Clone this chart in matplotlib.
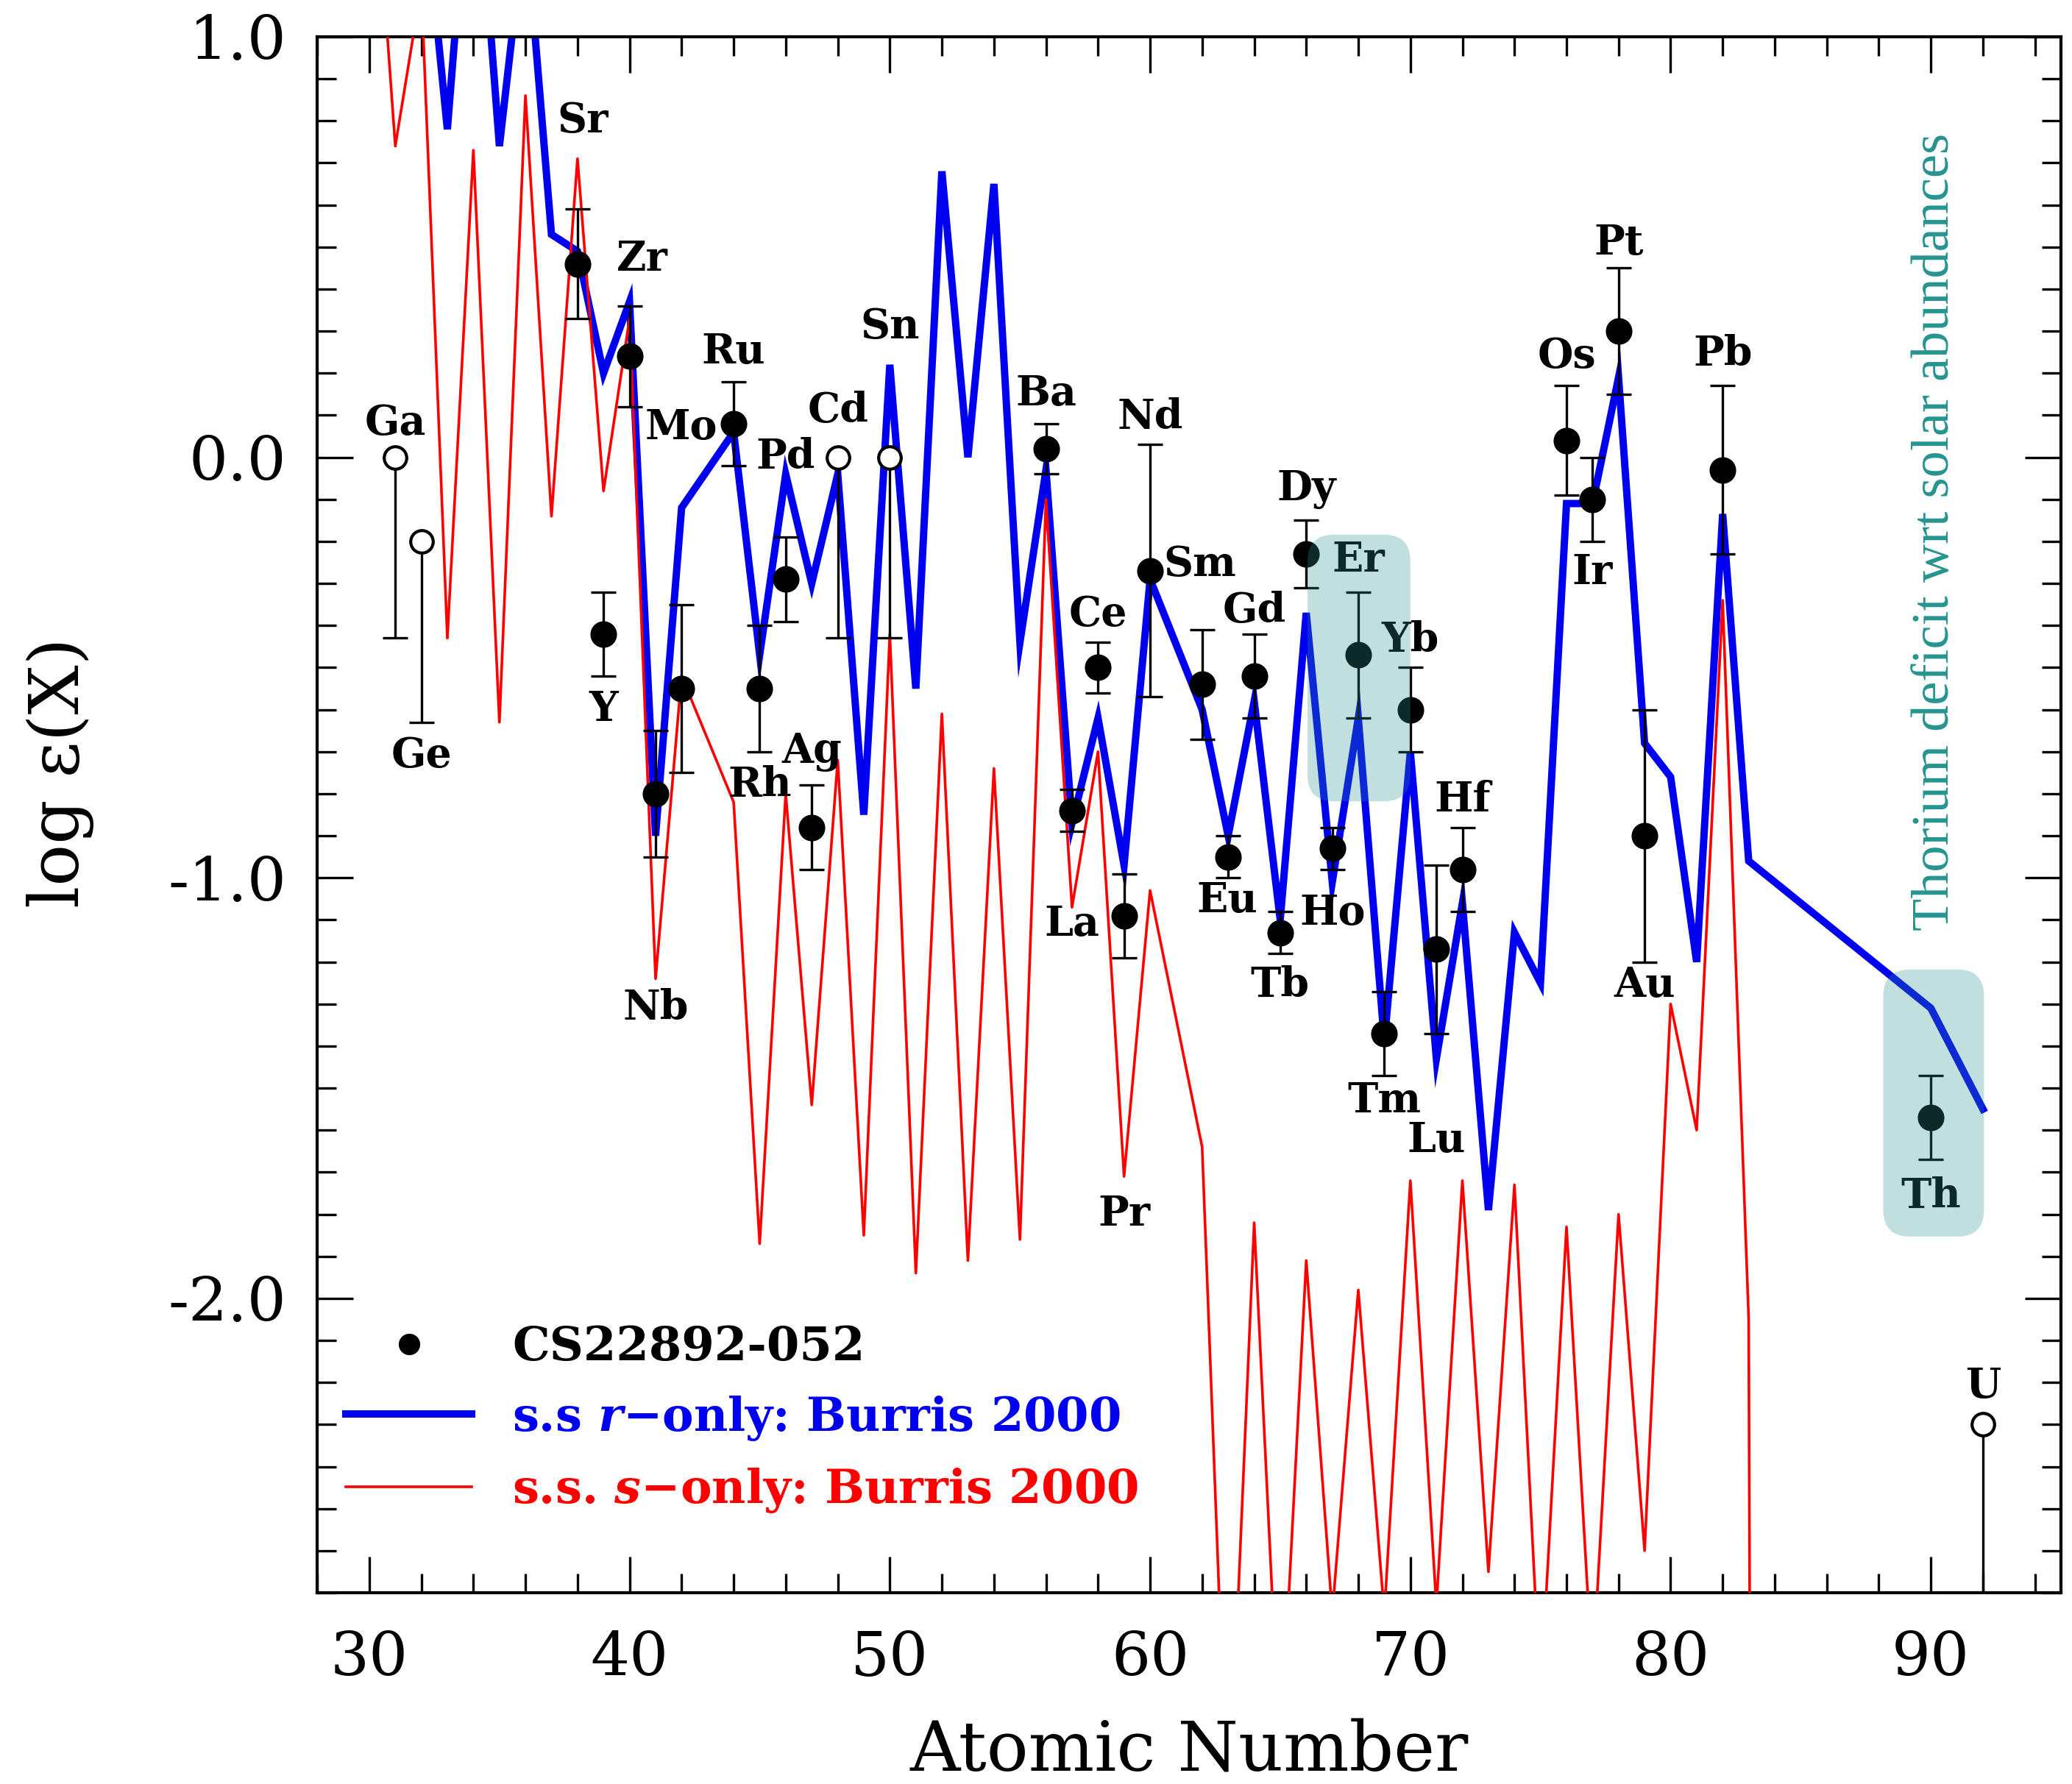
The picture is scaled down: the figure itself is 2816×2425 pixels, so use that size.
import matplotlib
matplotlib.use('Agg')
import matplotlib.pyplot as plt
from matplotlib.patches import FancyBboxPatch
from matplotlib.lines import Line2D
from matplotlib.ticker import MultipleLocator, FixedLocator, FormatStrFormatter

plt.rcParams['mathtext.fontset'] = 'custom'
plt.rcParams['mathtext.it'] = 'DejaVu Serif:italic:bold'
plt.rcParams['mathtext.rm'] = 'DejaVu Serif:bold'

# ---------------- data ----------------
# solar-system r-only abundances (Burris 2000), scaled
r_Z = [32, 33, 34, 35, 36, 37, 38, 39, 40, 41, 42, 44, 45, 46, 47, 48, 49, 50,
       51, 52, 53, 54, 55, 56, 57, 58, 59, 60, 62, 63, 64, 65, 66, 67, 68, 69,
       70, 71, 72, 73, 74, 75, 76, 77, 78, 79, 80, 81, 82, 83, 90, 92]
r_val = [1.40, 0.78, 1.55, 0.74, 1.28, 0.53, 0.49, 0.20, 0.37, -0.90, -0.12,
         0.06, -0.47, -0.04, -0.30, -0.04, -0.85, 0.22, -0.55, 0.68, 0.00, 0.65,
         -0.44, -0.03, -0.87, -0.62, -0.97, -0.29, -0.60, -0.90, -0.58, -1.10,
         -0.37, -1.01, -0.62, -1.39, -0.70, -1.43, -1.06, -1.79, -1.13, -1.25,
         -0.11, -0.11, 0.19, -0.68, -0.76, -1.20, -0.135, -0.96, -1.31, -1.55]

# solar-system s-only abundances (Burris 2000), scaled
s_Z = [30, 31, 32, 33, 34, 35, 36, 37, 38, 39, 40, 41, 42, 44, 45, 46, 47, 48,
       49, 50, 51, 52, 53, 54, 55, 56, 57, 58, 59, 60, 62, 63, 64, 65, 66, 67,
       68, 69, 70, 71, 72, 73, 74, 75, 76, 77, 78, 79, 80, 81, 82, 83, 84]
s_val = [1.60, 0.74, 1.12, -0.43, 0.73, -0.63, 0.86, -0.14, 0.71, -0.08, 0.33,
         -1.24, -0.52, -0.82, -1.87, -0.80, -1.54, -0.72, -1.85, -0.42, -1.94,
         -0.61, -1.91, -0.74, -1.86, -0.10, -1.07, -0.70, -1.71, -1.03, -1.64,
         -3.27, -1.82, -3.10, -1.91, -2.75, -1.98, -2.75, -1.72, -2.73, -1.72,
         -2.65, -1.73, -2.95, -1.83, -2.90, -1.80, -2.60, -1.30, -1.60, -0.34,
         -2.05, -20.0]

# CS22892-052 detections
det_el = ['Sr', 'Y', 'Zr', 'Nb', 'Mo', 'Ru', 'Rh', 'Pd', 'Ag', 'Ba', 'La',
          'Ce', 'Pr', 'Nd', 'Sm', 'Eu', 'Gd', 'Tb', 'Dy', 'Ho', 'Er', 'Tm',
          'Yb', 'Lu', 'Hf', 'Os', 'Ir', 'Pt', 'Au', 'Pb', 'Th']
det_Z = [38, 39, 40, 41, 42, 44, 45, 46, 47, 56, 57, 58, 59, 60, 62, 63, 64,
         65, 66, 67, 68, 69, 70, 71, 72, 76, 77, 78, 79, 82, 90]
det_val = [0.46, -0.42, 0.24, -0.80, -0.55, 0.08, -0.55, -0.29, -0.88, 0.02,
           -0.84, -0.50, -1.09, -0.27, -0.54, -0.95, -0.52, -1.13, -0.23,
           -0.93, -0.47, -1.37, -0.60, -1.17, -0.98, 0.04, -0.10, 0.30, -0.90,
           -0.03, -1.57]
det_err = [0.13, 0.10, 0.12, 0.15, 0.20, 0.10, 0.15, 0.10, 0.10, 0.06, 0.05,
           0.06, 0.10, 0.30, 0.13, 0.05, 0.10, 0.05, 0.08, 0.05, 0.15, 0.10,
           0.10, 0.20, 0.10, 0.13, 0.10, 0.15, 0.30, 0.20, 0.10]

# open-symbol (limit) values
lim_el = ['Ga', 'Ge', 'Cd', 'Sn', 'U']
lim_Z = [31, 32, 48, 50, 92]
lim_val = [0.00, -0.20, 0.00, 0.00, -2.30]
lim_down = [0.43, 0.43, 0.43, 0.43, 0.70]

# element label placement (data coordinates)
label_pos = {
    'Ga': (31.0, 0.08), 'Ge': (32.0, -0.71), 'Sr': (38.2, 0.80),
    'Y': (39.0, -0.60), 'Zr': (40.5, 0.47), 'Nb': (41.0, -1.31),
    'Mo': (42.0, 0.07), 'Ru': (44.0, 0.25), 'Rh': (45.0, -0.78),
    'Pd': (46.0, 0.00), 'Ag': (47.0, -0.70), 'Cd': (48.0, 0.11),
    'Sn': (50.0, 0.31), 'Ba': (56.0, 0.15), 'La': (57.0, -1.11),
    'Ce': (58.0, -0.375), 'Pr': (59.0, -1.80), 'Nd': (60.0, 0.095),
    'Sm': (61.9, -0.255), 'Eu': (62.95, -1.055), 'Gd': (64.0, -0.365),
    'Tb': (65.0, -1.255), 'Dy': (66.0, -0.075), 'Ho': (67.0, -1.085),
    'Er': (68.0, -0.245), 'Tm': (69.0, -1.53), 'Yb': (70.0, -0.435),
    'Lu': (71.0, -1.625), 'Hf': (72.0, -0.815), 'Os': (76.0, 0.24),
    'Ir': (77.0, -0.275), 'Pt': (78.0, 0.51), 'Au': (79.0, -1.255),
    'Pb': (82.0, 0.245), 'Th': (90.0, -1.757), 'U': (92.0, -2.21),
}

# highlighted regions (x0, x1, y0, y1)
highlight = [(66.05, 70.0, -0.818, -0.184), (88.17, 92.04, -1.853, -1.218)]

x_ticks = [30, 40, 50, 60, 70, 80, 90]
y_ticks = [-2.0, -1.0, 0.0, 1.0]

# ---------------- figure ----------------
fig = plt.figure(figsize=(28.16, 24.25), dpi=100)
ax = fig.add_axes([0.1531, 0.1072, 0.8416, 0.8722])

blue = '#0000f0'
red = '#ff0000'
teal = '#2a9191'

ax.plot(r_Z, r_val, color=blue, lw=7.2, solid_joinstyle='miter', zorder=2)
ax.plot(s_Z, s_val, color=red, lw=2.6, zorder=3)

ax.errorbar(det_Z, det_val, yerr=det_err, fmt='o', color='k', ms=25,
            elinewidth=2.4, capsize=12, capthick=2.4, zorder=5)
ax.errorbar(lim_Z, lim_val, yerr=[lim_down, [0] * len(lim_Z)], fmt='none',
            ecolor='k', elinewidth=2.4, capsize=12, capthick=2.4, zorder=5)
ax.plot(lim_Z, lim_val, 'o', ms=22, mfc='white', mec='k', mew=3.0, ls='none',
        zorder=6)

for name, (lx, ly) in label_pos.items():
    ax.text(lx, ly, name, ha='center', va='center', fontsize=40,
            fontweight='bold', family='DejaVu Serif', zorder=7)

# translucent highlight boxes
px_per_x = 35.4
px_per_y = 571.6
for (x0, x1, y0, y1) in highlight:
    r_x = 36 / px_per_x
    box = FancyBboxPatch((x0, y0), x1 - x0, y1 - y0,
                         boxstyle=f"round,pad=0,rounding_size={r_x:.3f}",
                         mutation_aspect=px_per_x / px_per_y,
                         facecolor=teal, edgecolor='none', alpha=0.29,
                         zorder=10)
    ax.add_patch(box)

ax.text(90.18, -0.177, 'Thorium deficit wrt solar abundances', rotation=90,
        ha='center', va='center', fontsize=52, family='Liberation Serif',
        color='#269490', zorder=11)

# axes
ax.set_xlim(28, 95)
ax.set_ylim(-2.7, 1.0)
ax.xaxis.set_major_locator(FixedLocator(x_ticks))
ax.xaxis.set_minor_locator(MultipleLocator(2))
ax.yaxis.set_major_locator(FixedLocator(y_ticks))
ax.yaxis.set_minor_locator(MultipleLocator(0.1))
ax.yaxis.set_major_formatter(FormatStrFormatter('%.1f'))
ax.tick_params(which='both', direction='in', top=True, right=True,
               width=2.4, colors='k')
ax.tick_params(which='major', length=35)
ax.tick_params(which='minor', length=19)
ax.tick_params(axis='x', which='major', pad=36, labelsize=60)
ax.tick_params(axis='y', which='major', pad=30, labelsize=60)
for lab in ax.get_xticklabels() + ax.get_yticklabels():
    lab.set_family('DejaVu Serif')
for sp in ax.spines.values():
    sp.set_linewidth(3.0)

ax.set_xlabel('Atomic Number', fontsize=68, family='DejaVu Serif', labelpad=30)
ax.set_ylabel('log \u03b5(X)', fontsize=68, family='DejaVu Serif')
ax.yaxis.set_label_coords(-0.128, 0.527)

handles = [
    Line2D([], [], marker='o', color='k', ls='none', ms=20),
    Line2D([], [], color=blue, lw=7.2),
    Line2D([], [], color=red, lw=2.6),
]
labels = ['CS22892-052', 's.s $r$\u2212only: Burris 2000',
          's.s. $s$\u2212only: Burris 2000']
leg = ax.legend(handles, labels, loc='upper left',
                bbox_to_anchor=(0.0165, 0.172), frameon=False,
                prop={'family': 'DejaVu Serif', 'weight': 'bold', 'size': 46},
                handlelength=2.67, handletextpad=0.87, labelspacing=0.51,
                borderpad=0, borderaxespad=0)
for t, c in zip(leg.get_texts(), ['k', blue, red]):
    t.set_color(c)

fig.savefig('out.png', dpi=100)
